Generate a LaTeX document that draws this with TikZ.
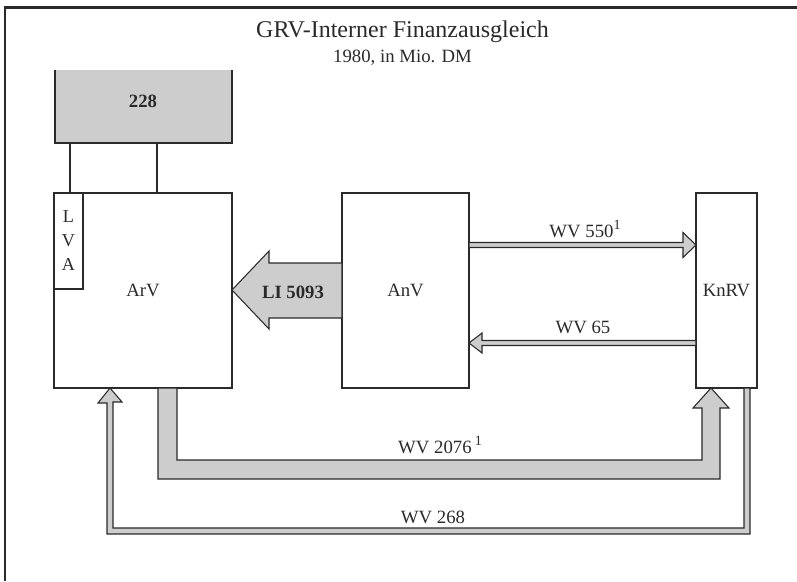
\documentclass[tikz,border=0pt]{standalone}
\usepackage{fontspec}
\setmainfont{Liberation Serif}
\usetikzlibrary{calc}
\definecolor{ink}{HTML}{2A2A2A}
\definecolor{shade}{HTML}{CDCDCD}
\newcommand{\fnmark}{\raisebox{0.42em}{\fontsize{12}{12}\selectfont 1}}

\tikzset{
  box/.style={draw=ink, line width=1pt, inner sep=0pt, outer sep=0pt, text=ink},
  band/.style={fill=shade, draw=ink, line width=0.9pt, line join=miter},
  lbl/.style={anchor=base, text=ink, inner sep=0pt}
}

\begin{document}
\begin{tikzpicture}[x=0.03cm, y=-0.03cm, font=\fontsize{16}{19}\selectfont]
  \useasboundingbox (0,0) rectangle (797,581);
  % frame, only left and top edges show
  \draw[ink, line width=2pt] (5,581) -- (5,7.5) -- (797,7.5);
  \node[lbl, font=\fontsize{20.5}{24}\selectfont] (title) at (402.5,37) {GRV-Interner Finanzausgleich};
  \node[lbl] (subtitle) at (402.5,62) {1980, in Mio. DM};

  % boxes
  \node[fill=shade, inner sep=0pt, outer sep=0pt, minimum width=5.31cm, minimum height=2.19cm] (top228) at (143.5,106.5) {};
  \draw[ink, line width=1pt] (top228.north west) -- (top228.south west) -- (top228.south east) -- (top228.north east);
  \node[lbl, font=\fontsize{16}{19}\selectfont\bfseries] (n228) at (143,107) {228};
  \node[box, minimum width=5.34cm, minimum height=5.85cm] (arv) at (143,290.5) {ArV};
  \node[box, anchor=north west, minimum width=0.87cm, minimum height=2.88cm, align=center,
        font=\fontsize{15.5}{20.5}\selectfont] (lva) at (arv.north west) {L\\V\\A};
  \node[box, minimum width=3.81cm, minimum height=5.85cm] (anv) at (405.5,290.5) {AnV};
  \node[box, minimum width=1.83cm, minimum height=5.85cm] (knrv) at (726.5,290.5) {KnRV};
  \draw[ink, line width=1pt] (top228.south -| 70,0) -- (arv.north -| 70,0);
  \draw[ink, line width=1pt] (top228.south -| 157,0) -- (arv.north -| 157,0);

  % LI 5093
  \draw[band] (arv.east |- 0,290) -- ++(37,-39) -- ++(0,12) -- (anv.west |- 0,263)
    -- (anv.west |- 0,318) -- ++(-73,0) -- ++(0,11) -- cycle;
  \node[lbl, font=\fontsize{16}{19}\selectfont\bfseries] (li) at (293,298) {LI 5093};

  % WV 550
  \draw[band] (knrv.west |- 0,245) -- ++(-13,-12.5) -- ++(0,10) -- (anv.east |- 0,242.5)
    -- (anv.east |- 0,247.5) -- ($(knrv.west |- 0,247.5)+(-13,0)$) -- ++(0,10) -- cycle;
  \node[lbl] (w550) at (585,237) {WV 550\fnmark};

  % WV 65
  \draw[band] (anv.east |- 0,343) -- ++(13,-10) -- ++(0,7.5) -- (knrv.west |- 0,340.5)
    -- (knrv.west |- 0,345.5) -- ($(anv.east |- 0,345.5)+(13,0)$) -- ++(0,7.5) -- cycle;
  \node[lbl] (w65) at (583,333) {WV 65};

  % WV 2076
  \draw[band] ($(knrv.south west)+(15,0)$) -- ++(18,20) -- ++(-9,0) -- (720,479) -- (158,479)
    -- (arv.south -| 158,0) -- (arv.south -| 177,0) -- (177,460) -- (702,460) -- (702,408)
    -- (693,408) -- cycle;
  \node[lbl] (w2076) at (440,453) {WV 2076\,\fnmark};

  % WV 268
  \draw[band] ($(arv.south west)+(56,0)$) -- ++(12,14) -- ++(-9,0) -- (113,528) -- (744,528)
    -- (knrv.south -| 744,0) -- (knrv.south -| 750,0) -- (750,534) -- (107,534) -- (107,403)
    -- (98,403) -- cycle;
  \node[lbl] (w268) at (433,523) {WV 268};
\end{tikzpicture}
\end{document}
